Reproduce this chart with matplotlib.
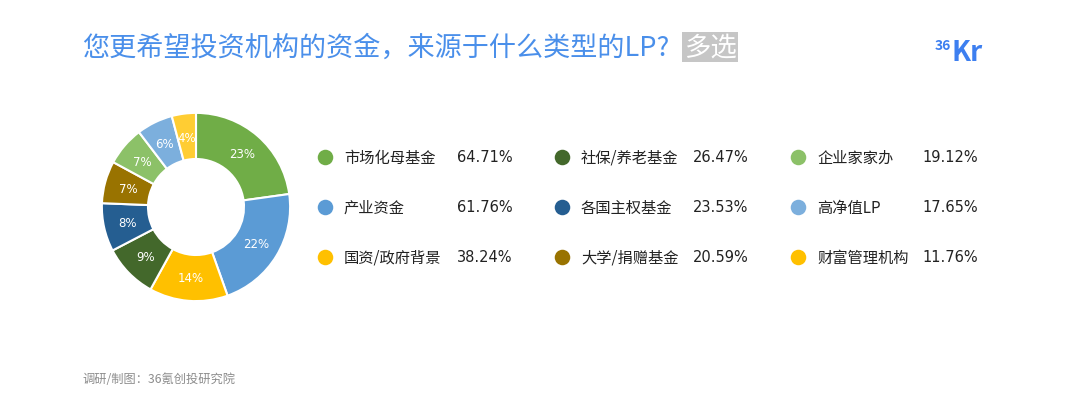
import numpy as np
import matplotlib.pyplot as plt

plt.rcParams['font.family'] = ['Noto Sans CJK SC', 'DejaVu Sans']

# data
labels = ['市场化母基金', '产业资金', '国资/政府背景', '社保/养老基金', '各国主权基金',
          '大学/捐赠基金', '企业家家办', '高净值LP', '财富管理机构']
values = [64.71, 61.76, 38.24, 26.47, 23.53, 20.59, 19.12, 17.65, 11.76]
slice_labels = ['23%', '22%', '14%', '9%', '8%', '7%', '7%', '6%', '4%']
pie_colors = ['#70AD47', '#5B9BD5', '#FFC000', '#43682B', '#255E91',
              '#997300', '#8CC168', '#7CAFDD', '#FFCD33']
dot_colors = ['#70AD47', '#5B9BD5', '#FFC000', '#43682B', '#255E91',
              '#997300', '#8CC168', '#7CAFDD', '#FFC000']

W, H = 1080, 414
fig = plt.figure(figsize=(W / 100, H / 100), dpi=100)
fig.patch.set_facecolor('white')

def fx(x):
    return x / W

def fy(y):
    return 1 - y / H

# title
fig.text(fx(82), fy(48), '您更希望投资机构的资金，来源于什么类型的LP?', color='#4A8FEA',
         fontsize=19.5, va='center', ha='left')
fig.text(fx(684), fy(48), '多选', color='white', fontsize=19, va='center', ha='left',
         bbox=dict(boxstyle='square,pad=0.06', fc='#C6C6C6', ec='none'))

# logo
fig.text(fx(935), fy(46), '36', color='#3D7FF0', fontsize=10, fontweight='bold',
         va='center', ha='left')
fig.text(fx(951), fy(53), 'Kr', color='#3D7FF0', fontsize=20, fontweight='bold',
         va='center', ha='left')

# donut
cx, cy, r = 196, 208, 96
ax = fig.add_axes([fx(cx - r), fy(cy + r), 2 * r / W, 2 * r / H])
wedges, texts = ax.pie(
    values, colors=pie_colors, startangle=90, counterclock=False, radius=1,
    labels=slice_labels, labeldistance=0.75,
    wedgeprops=dict(width=0.49, edgecolor='white', linewidth=1.5),
    textprops=dict(color='white', fontsize=8.5, family='DejaVu Sans'))
for t in texts:
    t.set_ha('center')
    t.set_va('center')
ax.set_xlim(-1.02, 1.02)
ax.set_ylim(-1.02, 1.02)
ax.set_aspect('equal')
ax.axis('off')

# legend
lax = fig.add_axes([0, 0, 1, 1], zorder=-1)
lax.set_xlim(0, W)
lax.set_ylim(H, 0)
lax.axis('off')
col_x = [325, 562, 798]
row_y = [158, 208, 258]
pct_x = [457, 693, 922]
for i, (lab, val) in enumerate(zip(labels, values)):
    col = i // 3
    row = i % 3
    lax.scatter(col_x[col], row_y[row], s=125, color=dot_colors[i], linewidths=0)
    lax.text(col_x[col] + 19, row_y[row], lab, color='#222222', fontsize=11,
             fontweight='medium', va='center', ha='left')
    lax.text(pct_x[col], row_y[row], '%.2f%%' % val, color='#222222',
             fontsize=10.5, va='center', ha='left', family='DejaVu Sans')

# footer
fig.text(fx(82), fy(380), '调研/制图：36氪创投研究院', color='#8C8C8C', fontsize=8.8,
         va='center', ha='left')

fig.savefig('out.png', dpi=100, facecolor='white')
